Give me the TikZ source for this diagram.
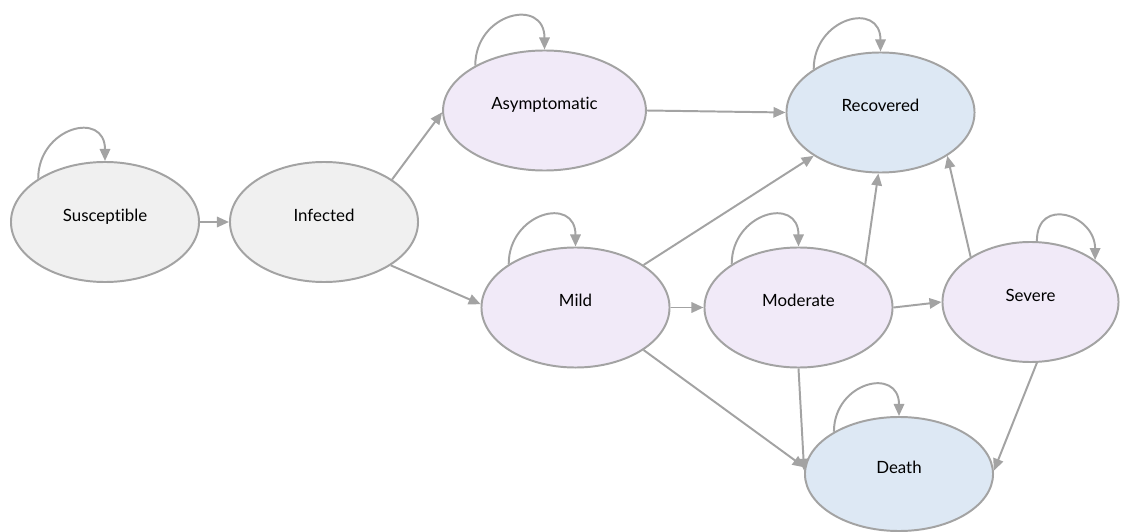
\documentclass[tikz,border=0pt]{standalone}
\usepackage{fontspec}
\setmainfont{Lato}[Ligatures=NoCommon]
\usepackage{xcolor}
\usetikzlibrary{shapes.geometric,arrows.meta}

\definecolor{linegray}{HTML}{A3A3A3}
\definecolor{healthy}{HTML}{F0F0F0}
\definecolor{ill}{HTML}{F1EAF8}
\definecolor{outcome}{HTML}{DDE8F4}

\begin{document}
\begin{tikzpicture}[x=0.025cm,y=-0.025cm,
  every node/.style={ellipse,draw=linegray,line width=1.4pt,inner sep=0pt,
    minimum width=4.7cm,minimum height=3cm,text depth=10pt,
    font=\fontsize{12}{14}\selectfont},
  trans/.style={draw=linegray,line width=1.4pt,
    -{Triangle[length=3mm,width=2.6mm]}},
  selfloop/.style={trans,out=90,in=90,looseness=1.9}]
  \useasboundingbox (0,0) rectangle (1121,532);

  \node[fill=healthy] (sus) at (105,222)    {Susceptible};
  \node[fill=healthy] (inf) at (324,222)    {Infected};
  \node[fill=ill,minimum width=5.07cm] (asy) at (544.5,110.5) {Asymptomatic};
  \node[fill=outcome] (rec) at (880.5,112.5) {Recovered};
  \node[fill=ill] (mild) at (575.5,307.5)   {Mild};
  \node[fill=ill] (mod)  at (798.5,307.5)   {Moderate};
  \node[fill=ill,minimum width=4.4cm] (sev) at (1030.5,302) {Severe};
  \node[fill=outcome,minimum height=2.85cm] (dea) at (899,474) {Death};

  % staying in the same state
  \draw[selfloop] (sus.147) to (sus.90);
  \draw[selfloop] (asy.147) to (asy.90);
  \draw[selfloop] (rec.147) to (rec.90);
  \draw[selfloop] (mild.147) to (mild.90);
  \draw[selfloop] (mod.147) to (mod.90);
  \draw[selfloop] (dea.147) to (dea.90);
  \draw[selfloop] (sev.84) to (sev.33);

  % moving between states
  \draw[trans] (sus.east) -- (inf.west);
  \draw[trans] (inf.32) -- (asy.181);
  \draw[trans] (inf.327) -- (mild.178);
  \draw[trans] (asy.east) -- (rec.west);
  \draw[trans] (mild.32) -- (rec.213);
  \draw[trans] (mild.east) -- (mod.west);
  \draw[trans] (mild.328) -- (dea.176);
  \draw[trans] (mod.33) -- (rec.268);
  \draw[trans] (mod.east) -- (sev.west);
  \draw[trans] (mod.270) -- (dea.178);
  \draw[trans] (sev.143) -- (rec.327);
  \draw[trans] (sev.276) -- (dea.2);
\end{tikzpicture}
\end{document}
